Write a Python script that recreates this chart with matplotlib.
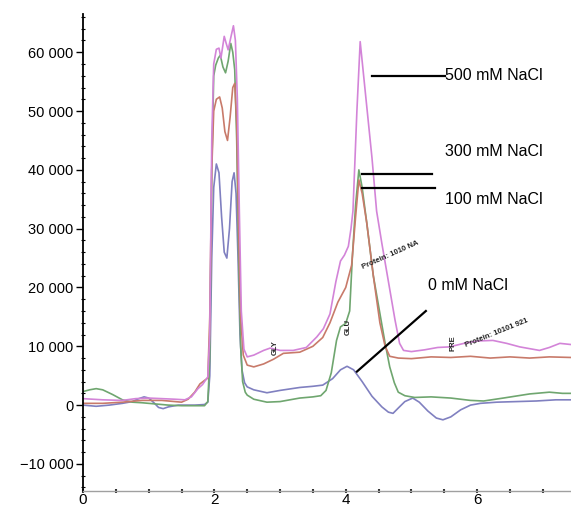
import numpy as np
import matplotlib
matplotlib.use("Agg")
import matplotlib.pyplot as plt
from matplotlib.ticker import MultipleLocator, FuncFormatter

plt.rcParams["font.family"] = ["Liberation Sans", "DejaVu Sans"]

# retention time (min) and signal (x1000 counts)
t_0mM = [0, 0.2, 0.4, 0.6, 0.75, 0.85, 0.93, 1.0, 1.08, 1.15, 1.22, 1.3, 1.45, 1.7,
         1.85, 1.9, 1.93, 1.96, 1.99, 2.03, 2.07, 2.11, 2.15, 2.19, 2.23, 2.27, 2.3,
         2.33, 2.36, 2.39, 2.42, 2.46, 2.5, 2.6, 2.8, 3.0, 3.3, 3.5, 3.65, 3.8, 3.92,
         4.02, 4.12, 4.25, 4.4, 4.55, 4.65, 4.72, 4.8, 4.9, 5.02, 5.12, 5.25, 5.38,
         5.48, 5.6, 5.75, 5.9, 6.05, 6.3, 6.6, 6.9, 7.2, 7.43]
s_0mM = [0.0, -0.2, 0.0, 0.3, 0.6, 1.1, 1.4, 1.2, 0.4, -0.4, -0.6, -0.3, 0.0, 0.0,
         0.1, 0.5, 5, 25, 37, 41, 39.5, 32, 26, 25, 30, 38, 39.5,
         36, 25, 12, 6, 3.8, 3.1, 2.6, 2.1, 2.5, 3.0, 3.2, 3.4, 4.5, 6.0,
         6.6, 6.0, 4.0, 1.5, -0.3, -1.2, -1.4, -0.5, 0.6, 1.2, 0.5, -1.0, -2.2,
         -2.5, -2.0, -0.8, 0.0, 0.3, 0.5, 0.6, 0.7, 0.9, 0.9]

t_100mM = [0, 0.3, 0.6, 0.9, 1.2, 1.4, 1.5, 1.6, 1.7, 1.78, 1.85, 1.9, 1.93, 1.96,
           1.99, 2.03, 2.08, 2.12, 2.16, 2.2, 2.24, 2.28, 2.31, 2.34, 2.37, 2.4, 2.44,
           2.5, 2.6, 2.75, 2.9, 3.05, 3.3, 3.5, 3.65, 3.76, 3.88, 4.0, 4.09, 4.15,
           4.2, 4.25, 4.32, 4.42, 4.52, 4.6, 4.67, 4.8, 5.0, 5.3, 5.6, 5.9, 6.2, 6.5,
           6.8, 7.1, 7.43]
s_100mM = [0.3, 0.3, 0.5, 0.8, 0.8, 0.6, 0.5, 1.0, 2.2, 3.6, 4.2, 4.6, 15, 40,
           50, 52, 52.4, 50.5, 46.5, 45, 49, 54, 54.7, 48, 30, 15, 8.5,
           6.8, 6.5, 7.0, 7.8, 8.8, 9.0, 10.0, 11.5, 14, 17.5, 20, 23.8, 32,
           38.3, 36, 31, 22, 14, 10, 8.3, 8.0, 7.9, 8.2, 8.1, 8.3, 8.0, 8.2,
           8.0, 8.2, 8.1]

t_300mM = [0, 0.1, 0.2, 0.3, 0.45, 0.6, 0.75, 0.9, 1.1, 1.3, 1.5, 1.7, 1.85, 1.9,
           1.93, 1.96, 1.99, 2.02, 2.06, 2.09, 2.13, 2.17, 2.21, 2.25, 2.28, 2.31,
           2.34, 2.37, 2.4, 2.43, 2.47, 2.5, 2.6, 2.8, 3.0, 3.3, 3.5, 3.62, 3.7, 3.78,
           3.86, 3.92, 4.0, 4.06, 4.1, 4.15, 4.2, 4.25, 4.32, 4.42, 4.52, 4.6, 4.67,
           4.74, 4.8, 4.9, 5.05, 5.3, 5.6, 5.9, 6.1, 6.4, 6.8, 7.1, 7.3, 7.43]
s_300mM = [2.3, 2.6, 2.8, 2.6, 1.8, 0.9, 0.5, 0.4, 0.2, 0.0, -0.1, -0.1, -0.1, 0.6,
           8, 40, 56, 57.8, 59, 59.5, 57.5, 56.5, 58.5, 61.5, 60, 57,
           45, 25, 10, 4, 2.2, 1.7, 1.0, 0.5, 0.6, 1.2, 1.4, 1.6, 2.5, 5.5,
           11, 13.3, 13.9, 16, 25, 34, 40, 37, 31, 22, 15.6, 10.5, 6.5,
           3.8, 2.2, 1.6, 1.3, 1.4, 1.2, 0.8, 0.7, 1.2, 1.9, 2.2, 2.0, 2.0]

t_500mM = [0, 0.3, 0.6, 0.8, 1.0, 1.2, 1.4, 1.55, 1.65, 1.75, 1.82, 1.9, 1.93, 1.96,
           1.99, 2.03, 2.07, 2.1, 2.15, 2.18, 2.21, 2.25, 2.29, 2.32, 2.35, 2.38, 2.41,
           2.45, 2.5, 2.6, 2.75, 2.85, 3.0, 3.2, 3.4, 3.56, 3.66, 3.76, 3.85, 3.92,
           3.98, 4.04, 4.08, 4.11, 4.17, 4.22, 4.3, 4.4, 4.47, 4.55, 4.65, 4.75, 4.82,
           4.88, 5.0, 5.2, 5.4, 5.58, 5.8, 6.0, 6.24, 6.45, 6.65, 6.8, 6.95, 7.1, 7.26,
           7.43]
s_500mM = [1.1, 0.9, 0.8, 1.1, 1.2, 1.1, 1.0, 0.9, 1.4, 2.8, 3.5, 4.8, 12, 45,
           58, 60.5, 60.7, 59, 62.7, 61.5, 60.4, 62.5, 64.5, 62, 52, 33, 16,
           9.5, 8.2, 8.5, 9.3, 9.7, 9.3, 9.3, 9.8, 11.6, 13, 15.5, 21, 24.5,
           25.5, 27, 30, 33, 50, 61.8, 53, 42, 33, 27.5, 21, 14.5, 10.5,
           9.3, 9.1, 9.4, 9.8, 9.9, 10.5, 10.9, 11.0, 10.5, 9.9, 9.6, 9.3, 9.8, 10.5,
           10.3]

series = [
    (t_0mM, s_0mM, "#8080c0"),
    (t_300mM, s_300mM, "#6fa66f"),
    (t_100mM, s_100mM, "#c87a6a"),
    (t_500mM, s_500mM, "#d384d8"),
]

fig = plt.figure(figsize=(5.71, 5.09), dpi=100)
ax = fig.add_axes([0.1454, 0.0354, 0.8546, 0.9371])

for t, s, c in series:
    ax.plot(t, np.array(s) * 1000, color=c, lw=1.2)

ax.set_xlim(0, 7.43)
ax.set_ylim(-14600, 66500)

for side in ["top", "right"]:
    ax.spines[side].set_visible(False)
ax.spines["left"].set_linewidth(1.3)
ax.spines["left"].set_color("black")
ax.spines["bottom"].set_color("#a0a0a0")
ax.spines["bottom"].set_linewidth(1.0)

ax.yaxis.set_major_locator(MultipleLocator(10000))
ax.yaxis.set_minor_locator(MultipleLocator(2000))
ax.yaxis.set_major_formatter(FuncFormatter(
    lambda v, p: ("\u2212" if v < 0 else "") + f"{abs(int(v)):,}".replace(",", " ")))
ax.tick_params(axis="y", which="major", direction="out", length=5, width=1, labelsize=10.5, pad=2)
ax.tick_params(axis="y", which="minor", direction="inout", length=3, width=0.8)

ax.xaxis.set_major_locator(MultipleLocator(2))
ax.xaxis.set_minor_locator(MultipleLocator(0.5))
ax.tick_params(axis="x", which="major", direction="inout", length=3, width=1.5,
               labelsize=11, pad=0, color="#333333")
ax.tick_params(axis="x", which="minor", direction="inout", length=2.5, width=1.5,
               color="#333333")

# annotation leader lines and labels
lab_kw = dict(fontsize=11.5, va="center", ha="left")
ax.plot([4.4, 5.51], [56000, 56000], color="black", lw=1.6)
ax.text(5.51, 56000, "500 mM NaCl", **lab_kw)
ax.plot([4.25, 5.31], [39300, 39300], color="black", lw=1.6)
ax.text(5.51, 43100, "300 mM NaCl", **lab_kw)
ax.plot([4.25, 5.36], [36900, 36900], color="black", lw=1.6)
ax.text(5.51, 35000, "100 mM NaCl", **lab_kw)
ax.plot([4.17, 5.22], [5700, 16000], color="black", lw=1.6)
ax.text(5.26, 20300, "0 mM NaCl", **lab_kw)

# small peak tags from the instrument printout
tag_kw = dict(fontsize=5.5, color="#222222", ha="center", va="center", fontweight="bold")
ax.text(2.92, 9800, "GLY", rotation=90, **tag_kw)
ax.text(4.04, 13200, "GLU", rotation=90, **tag_kw)
ax.text(4.68, 25500, "Protein: 1010 NA", rotation=24, **tag_kw)
ax.text(5.64, 10600, "PRE", rotation=90, **tag_kw)
ax.text(6.3, 12300, "Protein: 10101 921", rotation=22, **tag_kw)

fig.savefig("out.png", dpi=100)
